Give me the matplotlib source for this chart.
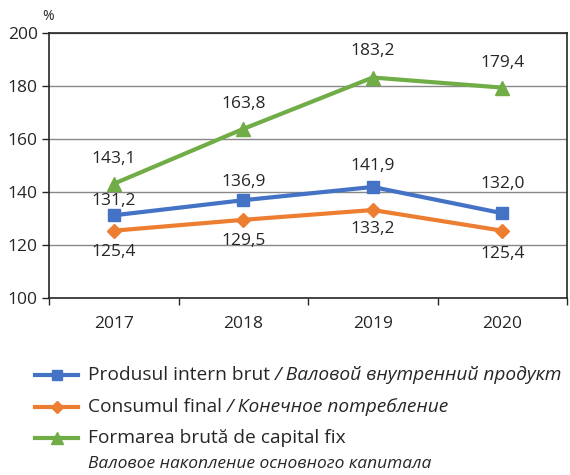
import matplotlib
matplotlib.use("Agg")
import matplotlib.pyplot as plt
from matplotlib.lines import Line2D

plt.rcParams['font.family'] = ['Open Sans', 'DejaVu Sans']

years = ['2017', '2018', '2019', '2020']
pib = [131.2, 136.9, 141.9, 132.0]
consum = [125.4, 129.5, 133.2, 125.4]
formare = [143.1, 163.8, 183.2, 179.4]

lbl_ro = ['Produsul intern brut', 'Consumul final', 'Formarea brută de capital fix']
lbl_ru = ['Валовой внутренний продукт', 'Конечное потребление', 'Валовое накопление основного капитала']

c_blue = '#4472C4'
c_orange = '#ED7D31'
c_green = '#70AD47'
txt = '#262626'

fig = plt.figure(figsize=(5.7, 4.75), dpi=100)
ax = fig.add_axes([49/570, 1-298/475, 518/570, 265/475])

x = [1, 2, 3, 4]
series = [
    (pib, c_blue, 's', 9, [10, 13, 15, 21]),
    (consum, c_orange, 'D', 7, [-15, -15, -13.5, -17]),
    (formare, c_green, '^', 10, [18, 18, 19, 18]),
]
for vals, col, mk, ms, offs in series:
    ax.plot(x, vals, color=col, lw=3, marker=mk, ms=ms, zorder=3)
    for xi, v, o in zip(x, vals, offs):
        ax.annotate(f'{v:.1f}'.replace('.', ','), (xi, v), xytext=(0, o),
                    textcoords='offset points', ha='center', va='center',
                    fontsize=12.5, color=txt)

ax.set_xlim(0.5, 4.5)
ax.set_ylim(100, 200)
ax.set_yticks(range(100, 201, 20))
ax.set_xticks(x)
ax.set_xticklabels(years)
ax.set_xticks([0.5, 1.5, 2.5, 3.5, 4.5], minor=True)
ax.tick_params(axis='x', which='major', length=0, pad=13, labelsize=12.5, labelcolor=txt)
ax.tick_params(axis='x', which='minor', length=5, color='#262626', width=1)
ax.tick_params(axis='y', length=5, color='#262626', width=1, labelsize=12.5, labelcolor=txt, pad=3)
ax.grid(axis='y', color='#888888', lw=1)
ax.set_axisbelow(True)
for s in ax.spines.values():
    s.set_color('#262626')
    s.set_linewidth(1.2)

fig.text(48/570, 1-16/475, '%', ha='center', va='center', fontsize=10, color=txt)

# legend drawn by hand
rows = [375, 407, 438]
markers = [('s', 7, c_blue), ('D', 6, c_orange), ('^', 8, c_green)]
fig.canvas.draw()
r = fig.canvas.get_renderer()
for i, (yy, (mk, ms, col)) in enumerate(zip(rows, markers)):
    yf = 1 - yy/475
    fig.add_artist(Line2D([35/570, 78/570], [yf, yf], color=col, lw=3,
                          transform=fig.transFigure))
    fig.add_artist(Line2D([56.5/570], [yf], color=col, marker=mk, ms=ms,
                          transform=fig.transFigure))
    t = fig.text(88/570, yf, lbl_ro[i] + ' ', ha='left',
                 va='center', fontsize=13.8, color=txt)
    if i < 2:
        bb = t.get_window_extent(r)
        fig.text(bb.x1/570, yf, '/ ' + lbl_ru[i], ha='left', va='center',
                 fontsize=13.8, style='italic', color=txt)
    else:
        fig.text(88/570, 1-464/475, lbl_ru[i], ha='left', va='center',
                 fontsize=12.5, style='italic', color=txt)

fig.savefig('out.png', dpi=100)
